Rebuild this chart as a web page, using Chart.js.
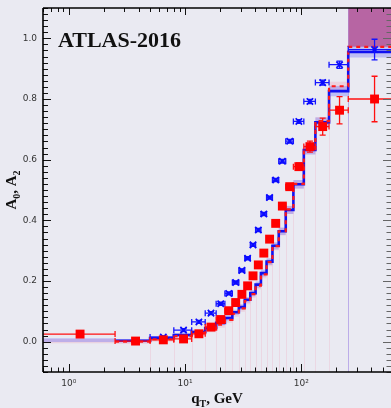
<!DOCTYPE html>
<html>
<head>
<meta charset="utf-8">
<script src="https://cdn.jsdelivr.net/npm/chart.js@4.4.0/dist/chart.umd.min.js"></script>
<style>
html,body{margin:0;padding:0;background:#eaeaf2;}
canvas{display:block;}
</style>
</head>
<body>
<canvas id="chart" width="391" height="408"></canvas>
<script>
// qT bins (GeV) and their centres
const binEdges = [0, 2.5, 5, 8, 11.4, 14.9, 18.5, 22, 25.5, 29, 32.6, 36.4, 40.4, 44.9, 50.2, 56.4, 63.9, 73.4, 85.4, 105, 132, 173, 253, 600];
const qtCenters = [1.25, 3.75, 6.5, 9.7, 13.15, 16.7, 20.25, 23.75, 27.25, 30.8, 34.5, 38.4, 42.65, 47.55, 53.3, 60.15, 68.65, 79.4, 95.2, 118.5, 152.5, 213, 426];

// measured A0 (blue) and A2 (red)
const a0Data = [null, null, 0.015, 0.038, 0.065, 0.094, 0.125, 0.159, 0.195, 0.235, 0.275, 0.319, 0.368, 0.421, 0.475, 0.533, 0.595, 0.661, 0.726, 0.792, 0.854, 0.913, 0.963];
const a0Err  = [0, 0, 0.004, 0.005, 0.005, 0.005, 0.005, 0.005, 0.005, 0.005, 0.005, 0.005, 0.005, 0.005, 0.005, 0.005, 0.006, 0.006, 0.006, 0.007, 0.008, 0.012, 0.034];
const a2Data = [0.025, 0.002, 0.006, 0.009, 0.026, 0.048, 0.073, 0.102, 0.129, 0.156, 0.184, 0.217, 0.253, 0.292, 0.338, 0.39, 0.447, 0.511, 0.577, 0.643, 0.709, 0.763, 0.80];
const a2Err  = [0.004, 0.004, 0.004, 0.004, 0.004, 0.004, 0.004, 0.004, 0.004, 0.004, 0.004, 0.005, 0.005, 0.006, 0.006, 0.007, 0.008, 0.010, 0.012, 0.018, 0.028, 0.045, 0.075];

// theory steps + bands
const a0Theory = [0.005, 0.003, 0.012, 0.022, 0.032, 0.045, 0.062, 0.078, 0.097, 0.114, 0.138, 0.160, 0.188, 0.226, 0.264, 0.316, 0.364, 0.434, 0.519, 0.632, 0.723, 0.826, 0.955];
const a0Band   = [0.006, 0.006, 0.006, 0.006, 0.007, 0.007, 0.008, 0.008, 0.008, 0.009, 0.009, 0.010, 0.010, 0.011, 0.011, 0.012, 0.012, 0.013, 0.014, 0.015, 0.016, 0.017, 0.018];
const a2Theory = [0.003, 0.000, 0.008, 0.018, 0.028, 0.040, 0.056, 0.072, 0.092, 0.110, 0.134, 0.157, 0.185, 0.222, 0.262, 0.315, 0.364, 0.436, 0.520, 0.635, 0.727, 0.842, 0.972];
const a2BandDn = [0.008, 0.008, 0.008, 0.008, 0.009, 0.009, 0.010, 0.010, 0.010, 0.011, 0.011, 0.012, 0.012, 0.013, 0.013, 0.014, 0.014, 0.015, 0.016, 0.017, 0.018, 0.019, 0.0];
const a2BandUp = [0.006, 0.006, 0.006, 0.006, 0.006, 0.007, 0.007, 0.007, 0.008, 0.008, 0.008, 0.009, 0.009, 0.010, 0.010, 0.011, 0.011, 0.012, 0.012, 0.013, 0.014, 0.015, 0.6];

const X_MIN = 0.6, X_MAX = 590;
const xTicks = [1, 10, 100];
const xTickText = ["10⁰", "10¹", "10²"];
const yTicks = [0, 0.2, 0.4, 0.6, 0.8, 1.0];

const last = binEdges.length - 2;

function stepPts(vals, from, to){
    const pts = [];
    for(let i=from;i<=to;i++) pts.push({x:Math.max(binEdges[i],X_MIN), y:vals[i]});
    pts.push({x:binEdges[to+1], y:vals[to]});
    return pts;
}
const plus  = (a,b)=>a.map((v,i)=>v+b[i]);
const minus = (a,b)=>a.map((v,i)=>v-b[i]);

function points(vals){
    return qtCenters.map((c,i)=>({x:c, y:vals[i]}));
}

function bandPair(hi, lo, from, to, color, order){
    return [
        {type:"line", data:stepPts(hi,from,to), stepped:true, fill:"+1", backgroundColor:color,
         borderWidth:0, borderColor:"transparent", pointRadius:0, order},
        {type:"line", data:stepPts(lo,from,to), stepped:true, fill:false,
         borderWidth:0, borderColor:"transparent", pointRadius:0, order}
    ];
}

const datasets = [
    {type:"scatter", data:points(a2Data), pointStyle:"rect", pointRadius:6.3, pointHoverRadius:6.3,
     backgroundColor:"#ff0000", borderColor:"#ff0000", borderWidth:0, order:0,
     errY:a2Err, errColor:"#ff1010"},
    {type:"scatter", data:points(a0Data), pointStyle:"crossRot", pointRadius:4.5, pointHoverRadius:4.5,
     backgroundColor:"#0000ff", borderColor:"#0a0aff", borderWidth:1.7, order:1,
     errY:a0Err, errColor:"#1414ff"},
    {type:"line", data:stepPts(a2Theory,1,last), stepped:true, borderColor:"#ff1a1a", borderWidth:2.2,
     borderDash:[4,4], pointRadius:0, fill:false, order:2},
    {type:"line", data:stepPts(a0Theory,1,last), stepped:true, borderColor:"#1010f0", borderWidth:2.6,
     pointRadius:0, fill:false, order:3},
    ...bandPair(plus(a0Theory,a0Band), minus(a0Theory,a0Band), 0, last, "rgba(95,95,250,0.32)", 5),
    ...bandPair(plus(a2Theory,a2BandUp), minus(a2Theory,a2BandDn), 0, last-1, "rgba(235,90,130,0.16)", 6),
    ...bandPair(plus(a2Theory,a2BandUp), minus(a2Theory,a2BandDn), last, last, "rgba(172,72,145,0.82)", 7)
];

// error bars drawn just before each data set's markers
const errorBars = {
    id:"errorBars",
    beforeDatasetDraw(chart, args){
        const ds = chart.data.datasets[args.index];
        if(!ds.errY) return;
        const {ctx, chartArea:a, scales:{x,y}} = chart;
        ctx.save();
        ctx.beginPath(); ctx.rect(a.left,a.top,a.right-a.left,a.bottom-a.top); ctx.clip();
        ctx.strokeStyle = ds.errColor; ctx.lineWidth = 1.3;
        const cap = 3;
        ds.data.forEach((p,i)=>{
            if(p.y==null) return;
            const px = x.getPixelForValue(p.x), py = y.getPixelForValue(p.y);
            const lo = binEdges[i], hi = binEdges[i+1];
            const xl = lo>=X_MIN ? x.getPixelForValue(lo) : a.left;
            const xr = hi<=X_MAX ? x.getPixelForValue(hi) : a.right;
            const yt = y.getPixelForValue(p.y+ds.errY[i]), yb = y.getPixelForValue(p.y-ds.errY[i]);
            ctx.beginPath();
            ctx.moveTo(xl,py); ctx.lineTo(xr,py);
            if(lo>=X_MIN){ ctx.moveTo(xl,py-cap); ctx.lineTo(xl,py+cap); }
            if(hi<=X_MAX){ ctx.moveTo(xr,py-cap); ctx.lineTo(xr,py+cap); }
            ctx.moveTo(px,yt); ctx.lineTo(px,yb);
            ctx.moveTo(px-cap,yt); ctx.lineTo(px+cap,yt);
            ctx.moveTo(px-cap,yb); ctx.lineTo(px+cap,yb);
            ctx.stroke();
        });
        ctx.restore();
    }
};

// faint bin edge lines under everything
const binLines = {
    id:"binLines",
    beforeDatasetsDraw(chart){
        const {ctx, chartArea:a, scales:{x,y}} = chart;
        ctx.save();
        ctx.lineWidth = 1;
        for(let i=2;i<last;i++){
            const px = Math.round(x.getPixelForValue(binEdges[i]))+0.5;
            ctx.strokeStyle = "rgba(240,120,150,0.16)";
            ctx.beginPath(); ctx.moveTo(px,a.bottom); ctx.lineTo(px,y.getPixelForValue(a2Theory[i-1])); ctx.stroke();
        }
        const pl = Math.round(x.getPixelForValue(binEdges[last]))+0.5;
        ctx.strokeStyle = "rgba(150,120,225,0.55)";
        ctx.beginPath(); ctx.moveTo(pl,a.bottom); ctx.lineTo(pl,a.top); ctx.stroke();
        ctx.restore();
    }
};

function richText(ctx, parts, x, y){
    parts.forEach(p=>{
        ctx.font = `bold ${p.size}px "Liberation Serif", serif`;
        ctx.fillText(p.t, x, y+(p.dy||0));
        x += ctx.measureText(p.t).width;
    });
}
function richWidth(ctx, parts){
    let w = 0;
    parts.forEach(p=>{ ctx.font = `bold ${p.size}px "Liberation Serif", serif`; w += ctx.measureText(p.t).width; });
    return w;
}

// frame, inward ticks and titles
const frame = {
    id:"frame",
    afterDraw(chart){
        const {ctx, chartArea:a, scales:{x,y}} = chart;
        ctx.save();
        const seg = (x1,y1,x2,y2)=>{ ctx.beginPath(); ctx.moveTo(x1,y1); ctx.lineTo(x2,y2); ctx.stroke(); };
        ctx.lineWidth = 1;
        for(let k=-5;k<=55;k++){
            const py = Math.round(y.getPixelForValue(k/50))+0.5;
            const major = k%10===0;
            ctx.strokeStyle = "#111";
            seg(a.left, py, a.left+(major?8:5), py);
            ctx.strokeStyle = "#666";
            seg(a.right, py, a.right-(major?8:4.5), py);
        }
        for(let d=-1;d<=2;d++){
            for(let m=1;m<=9;m++){
                const v = m*Math.pow(10,d);
                if(v<X_MIN || v>X_MAX) continue;
                const px = Math.round(x.getPixelForValue(v))+0.5;
                const major = m===1;
                ctx.strokeStyle = "#111";
                seg(px, a.bottom, px, a.bottom-(major?8:4.5));
                seg(px, a.top, px, a.top+(major?7:4));
            }
        }
        ctx.strokeStyle = "#000"; ctx.lineWidth = 1.6;
        seg(a.left, a.top, a.left, a.bottom);
        seg(a.left, a.bottom, a.right, a.bottom);
        seg(a.left, a.top, a.right, a.top);

        ctx.fillStyle = "#111";
        ctx.textBaseline = "alphabetic";
        richText(ctx, [{t:"ATLAS-2016", size:22}], 58, 47);

        const xl = [{t:"q",size:15},{t:"T",size:10,dy:4},{t:", GeV",size:15}];
        richText(ctx, xl, (a.left+a.right)/2 - richWidth(ctx,xl)/2, 402.5);

        const yl = [{t:"A",size:15},{t:"0",size:10,dy:4},{t:", A",size:15},{t:"2",size:10,dy:4}];
        ctx.translate(15.5, 190);
        ctx.rotate(-Math.PI/2);
        richText(ctx, yl, -richWidth(ctx,yl)/2, 0);
        ctx.restore();
    }
};

new Chart(document.getElementById("chart"), {
    type:"scatter",
    data:{datasets},
    options:{
        responsive:false,
        animation:false,
        devicePixelRatio:1,
        layout:{autoPadding:false, padding:{top:8,right:0,left:0,bottom:0}},
        plugins:{legend:{display:false}, tooltip:{enabled:false}},
        scales:{
            x:{
                type:"logarithmic", min:X_MIN, max:X_MAX,
                grid:{display:false, drawTicks:false}, border:{display:false},
                afterBuildTicks:s=>{ s.ticks = xTicks.map(v=>({value:v})); },
                afterFit:s=>{ s.height = 36; s.paddingLeft = 0; s.paddingRight = 0; },
                ticks:{autoSkip:false, maxRotation:0, padding:6, color:"#333",
                       font:{family:"DejaVu Sans", size:9},
                       callback:(v)=>{ const i = xTicks.indexOf(v); return i<0 ? "" : xTickText[i]; }}
            },
            y:{
                type:"linear", min:-0.1, max:1.1,
                grid:{display:false, drawTicks:false}, border:{display:false},
                afterBuildTicks:s=>{ s.ticks = yTicks.map(v=>({value:v})); },
                afterFit:s=>{ s.width = 43; s.paddingTop = 0; s.paddingBottom = 0; },
                ticks:{padding:6, color:"#333", font:{family:"DejaVu Sans", size:9},
                       callback:(v)=>v.toFixed(1)}
            }
        }
    },
    plugins:[binLines, errorBars, frame]
});
</script>
</body>
</html>
